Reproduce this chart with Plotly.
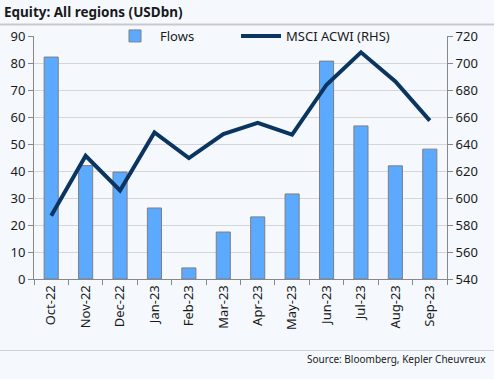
import plotly.graph_objects as go

months = ["Oct-22", "Nov-22", "Dec-22", "Jan-23", "Feb-23", "Mar-23",
          "Apr-23", "May-23", "Jun-23", "Jul-23", "Aug-23", "Sep-23"]
flows = [82.2, 42.0, 39.6, 26.3, 4.1, 17.4, 23.0, 31.5, 80.7, 56.7, 41.9, 48.1]
msci_acwi = [586.9, 631.3, 605.6, 648.6, 629.6, 647.4, 655.6, 646.9, 683.9, 707.9, 686.4, 657.3]

W, H = 494, 379
ML, MR, MT, MB = 34, 47, 36, 100
PW, PH = W - ML - MR, H - MT - MB

def px_x(x):
    return (x - ML) / PW

def px_y(y):
    return (H - MB - y) / PH

FONT = "Noto Sans"
TXT = "#1a1a1a"
BG = "#f5f9fe"

fig = go.Figure()
fig.add_trace(go.Bar(
    x=months, y=flows, name="Flows", legend="legend",
    marker=dict(color="#5caaff", line=dict(color="#7f7f7f", width=1)),
))
fig.add_trace(go.Scatter(
    x=months, y=msci_acwi, name="MSCI ACWI (RHS)", yaxis="y2", legend="legend2",
    mode="lines", line=dict(color="#0b3561", width=4),
))

leg_common = dict(orientation="h", xanchor="left", y=1.0, yanchor="middle",
                  bgcolor="rgba(0,0,0,0)", font=dict(size=13, color=TXT), itemwidth=40)

fig.update_layout(
    width=W, height=H,
    margin=dict(l=ML, r=MR, t=MT, b=MB),
    paper_bgcolor=BG, plot_bgcolor=BG,
    font=dict(family=FONT, size=13, color=TXT),
    bargap=0.59,
    showlegend=True,
    legend=dict(x=px_x(110), **leg_common),
    legend2=dict(x=px_x(236), **leg_common),
    xaxis=dict(
        type="category", range=[-0.5, 11.5], tickangle=-90,
        ticks="outside", ticklen=5, tickcolor="#888888", tickson="boundaries",
        showline=True, linecolor="#888888", linewidth=1, showgrid=False,
        tickfont=dict(size=13, color=TXT),
    ),
    yaxis=dict(
        range=[0, 90], dtick=10, ticks="outside", ticklen=5, tickcolor="#888888",
        showline=True, linecolor="#888888", linewidth=1,
        showgrid=True, gridcolor="#d6d6d6", gridwidth=1, zeroline=False,
        tickfont=dict(size=13, color=TXT),
    ),
    yaxis2=dict(
        range=[540, 720], dtick=20, overlaying="y", side="right",
        ticks="outside", ticklen=5, tickcolor="#888888",
        showline=True, linecolor="#888888", linewidth=1,
        showgrid=False, zeroline=False,
        tickfont=dict(size=13, color=TXT),
    ),
    shapes=[
        dict(type="line", xref="paper", yref="paper",
             x0=px_x(0), x1=px_x(W), y0=px_y(24.5), y1=px_y(24.5),
             line=dict(color="#c9c9c9", width=2)),
        dict(type="line", xref="paper", yref="paper",
             x0=px_x(0), x1=px_x(W), y0=px_y(350.5), y1=px_y(350.5),
             line=dict(color="#d0d0d0", width=1)),
    ],
    annotations=[
        dict(text="<b>Equity: All regions (USDbn)</b>", xref="paper", yref="paper",
             x=px_x(2), y=px_y(12), xanchor="left", yanchor="middle",
             showarrow=False, font=dict(size=13.5, color=TXT, family=FONT)),
        dict(text="Source: Bloomberg, Kepler Cheuvreux", xref="paper", yref="paper",
             x=px_x(488), y=px_y(359), xanchor="right", yanchor="middle",
             showarrow=False, font=dict(size=10, color=TXT, family=FONT)),
    ],
)

fig.write_html(
    "out.html",
    config={"displayModeBar": False},
    post_script="document.body.style.margin='0px';document.body.style.background='%s';" % BG,
)
